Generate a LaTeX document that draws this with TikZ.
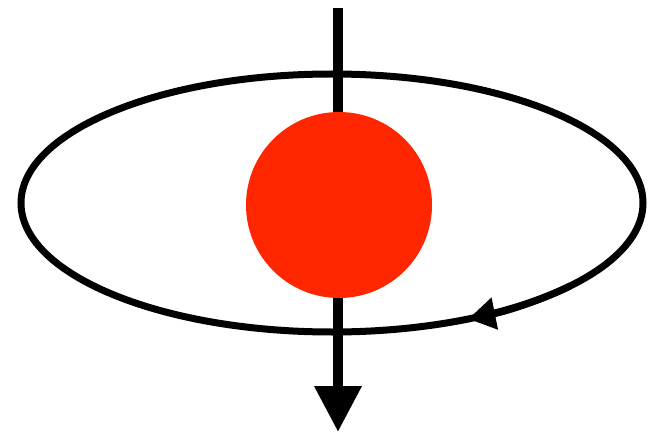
\documentclass[tikz,border=0pt]{standalone}
\usepackage{tikz}
\usepackage{xcolor}
\usetikzlibrary{arrows.meta, positioning, calc}
\definecolor{cRed}{RGB}{255,38,0}
\tikzset{
	orbitline/.style={draw=black, line width=7pt},
	orbitarrow/.style={orbitline, -{Triangle[length=27pt, width=31pt]}},
	axisarrow/.style={draw=black, line width=10pt, -{Triangle[length=46pt, width=45pt]}},
	planet/.style={circle, fill=cRed, minimum size=186pt, inner sep=0pt},
}
\begin{document}
\begin{tikzpicture}[x=1pt, y=-1pt]
	\useasboundingbox (0,0) rectangle (648,433);
	% spin axis
	\coordinate (top) at (338,8);
	\coordinate (bottom) at (338,432);
	\draw[axisarrow] (top) -- (bottom);
	% orbit
	\coordinate (c) at (332,203);
	\draw[orbitline] (c) ellipse [x radius=311, y radius=129];
	\draw[orbitarrow] ($(c)+(40:311 and 129)$) arc [start angle=40, end angle=64, x radius=311, y radius=129];
	% body
	\node[planet] (p) at (339,205) {};
\end{tikzpicture}
\end{document}
